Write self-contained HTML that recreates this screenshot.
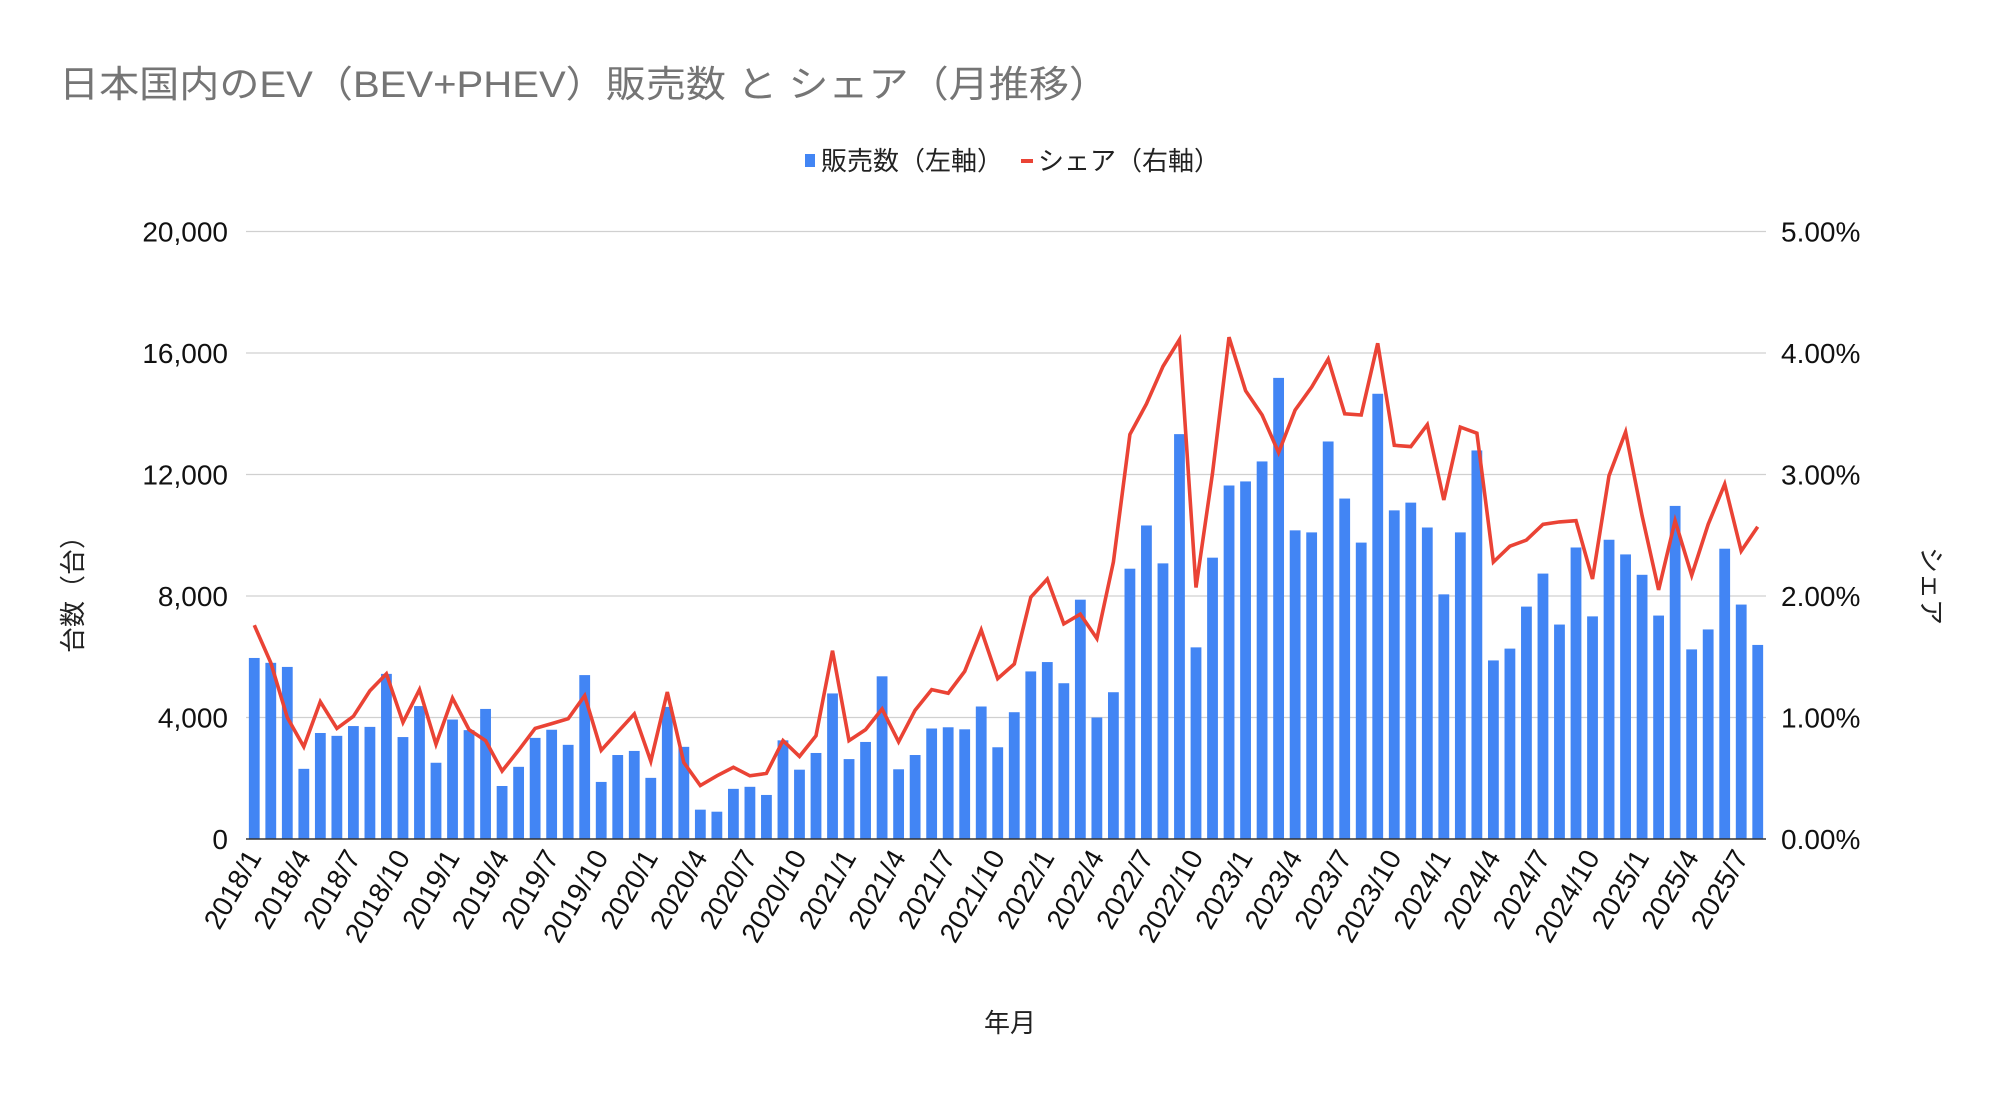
<!DOCTYPE html>
<html><head><meta charset="utf-8"><style>
html,body{margin:0;padding:0;background:#fff;}
svg{display:block;font-family:"Liberation Sans","Noto Sans CJK JP",sans-serif;}
</style></head><body>
<svg id="chart" width="2002" height="1093" viewBox="0 0 2002 1093" xmlns="http://www.w3.org/2000/svg">
<rect width="2002" height="1093" fill="#fff"/>
<text x="59" y="97" font-size="37" fill="#757575" textLength="1050" lengthAdjust="spacingAndGlyphs">日本国内のEV（BEV+PHEV）販売数 と シェア（月推移）</text>
<g>
<rect x="805" y="154" width="10" height="13" fill="#4285F4"/>
<text x="821" y="170" font-size="26" fill="#222">販売数（左軸）</text>
<rect x="1021" y="159" width="12" height="4" fill="#EA4335"/>
<text x="1038" y="170" font-size="26" fill="#222">シェア（右軸）</text>
</g>
<g id="grid"></g>
<g id="bars"></g>
<g id="line"></g>
<g id="yl"></g>
<g id="yr"></g>
<g id="xl"></g>
<text transform="translate(82,588) rotate(-90)" text-anchor="middle" font-size="26" fill="#222">台数（台）</text>
<text transform="translate(1922,586) rotate(90)" text-anchor="middle" font-size="26" fill="#222">シェア</text>
<text x="1010" y="1032" text-anchor="middle" font-size="26" fill="#222">年月</text>
</svg>
<script>
const sales = [5960,5800,5665,2310,3490,3396,3718,3691,5436,3356,4376,2510,3933,3584,4282,1745,2376,3329,3597,3100,5396,1879,2765,2899,2013,4349,3034,966,899,1651,1718,1450,3248,2282,2832,4792,2631,3195,5356,2295,2765,3638,3678,3611,4362,3020,4174,5517,5825,5128,7879,4000,4832,8899,10322,9074,13329,6309,9262,11638,11772,12430,15181,10161,10094,13087,11208,9758,14658,10819,11074,10255,8054,10094,12792,5879,6268,7651,8738,7060,9597,7329,9852,9369,8698,7356,10966,6242,6899,9557,7718,6389];
const share = [1.76,1.45,1.00,0.76,1.13,0.91,1.01,1.22,1.36,0.96,1.23,0.78,1.16,0.90,0.81,0.56,0.73,0.91,0.95,0.99,1.18,0.73,0.88,1.03,0.64,1.21,0.63,0.44,0.52,0.59,0.52,0.54,0.81,0.68,0.85,1.55,0.81,0.90,1.07,0.80,1.06,1.23,1.20,1.38,1.72,1.32,1.44,1.99,2.14,1.77,1.85,1.65,2.28,3.33,3.58,3.89,4.11,2.07,3.01,4.13,3.69,3.49,3.18,3.53,3.72,3.95,3.50,3.49,4.08,3.24,3.23,3.41,2.79,3.39,3.34,2.28,2.41,2.46,2.59,2.61,2.62,2.14,2.99,3.35,2.66,2.05,2.62,2.17,2.59,2.92,2.37,2.57];
const leftTicks = [0,4000,8000,12000,16000,20000];
const leftTickLabels = ["0","4,000","8,000","12,000","16,000","20,000"];
const rightTickLabels = ["0.00%","1.00%","2.00%","3.00%","4.00%","5.00%"];
const startYear = 2018, startMonth = 1;

const NS="http://www.w3.org/2000/svg";
const X0=246, X1=1766, Y0=839, Y1=231.5;
const band=(X1-X0)/sales.length;
const xc=i=>X0+band*(i+0.5);
const yL=v=>Y0-(v/20000)*(Y0-Y1);
const yR=v=>Y0-(v/5)*(Y0-Y1);
function mk(tag,attrs,parent){const e=document.createElementNS(NS,tag);for(const k in attrs)e.setAttribute(k,attrs[k]);parent.appendChild(e);return e;}

const grid=document.getElementById('grid');
const yl=document.getElementById('yl'), yr=document.getElementById('yr');
leftTicks.forEach((t,i)=>{
  const y=yL(t);
  if(i>0){const g=mk('line',{x1:X0,x2:X1,y1:y,y2:y,stroke:'#d0d0d0','stroke-width':1.3},grid);
  
  }
  const a=mk('text',{x:228,y:y+10,'text-anchor':'end','font-size':28,fill:'#111'},yl);a.textContent=leftTickLabels[i];
  
  
  const b=mk('text',{x:1781,y:y+10,'font-size':28,fill:'#111'},yr);b.textContent=rightTickLabels[i];
  
  
});

const bars=document.getElementById('bars');
sales.forEach((v,i)=>{
  const r=mk('rect',{x:xc(i)-5.4,y:yL(v),width:10.8,height:Y0-yL(v),fill:'#4285F4'},bars);
  
  
});
const base=mk('line',{x1:X0,x2:X1,y1:Y0,y2:Y0,stroke:'#333','stroke-width':1.5},grid.parentNode);



const line=document.getElementById('line');
const pts=share.map((v,i)=>xc(i).toFixed(1)+','+yR(v).toFixed(1)).join(' ');
const pl=mk('polyline',{points:pts,fill:'none',stroke:'#EA4335','stroke-width':3.6,'stroke-linejoin':'miter'},line);



const xl=document.getElementById('xl');
for(let i=0;i<sales.length;i+=3){
  const m=startMonth-1+i, yr_=startYear+Math.floor(m/12), mo=m%12+1;
  const x=xc(i)+8, y=Y0+18;
  const t=mk('text',{x:x,y:y,'text-anchor':'end','font-size':28,fill:'#111',transform:`rotate(-60 ${x} ${y})`},xl);
  t.textContent=yr_+'/'+mo;
  
  
}
</script>
</body></html>
